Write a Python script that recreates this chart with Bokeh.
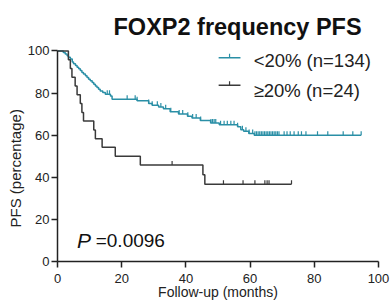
import numpy as np
from bokeh.plotting import figure
from bokeh.models import Range1d, FixedTicker, Title
from bokeh.core.properties import value
from bokeh.embed import file_html
from bokeh.resources import INLINE

# ---- data ----
low_t = [0, 1.8, 2.4, 3.0, 3.4, 4.0, 4.6, 5.0, 5.6, 6.1, 6.6, 7.1, 7.6, 8.1, 8.7, 9.2, 9.7,
         10.2, 10.8, 11.3, 11.8, 12.3, 12.8, 13.3, 14.1, 14.9, 16.5, 17.0, 24.8, 28.4, 29.5,
         31.5, 33.0, 35.1, 37.7, 40.5, 41.9, 44.5, 47.7, 50.4, 56.1, 57.1, 58.0, 59.6, 61.3]
low_s = [100, 99.2, 98.5, 97.7, 97.0, 96.2, 94.7, 93.9, 93.1, 92.3, 91.5, 90.7, 89.8, 89.0,
         88.2, 87.4, 86.6, 85.8, 85.0, 84.2, 83.4, 82.6, 81.8, 81.0, 80.2, 79.4, 78.6, 77.1,
         76.3, 75.0, 74.2, 73.4, 72.5, 71.1, 70.0, 69.0, 68.1, 67.0, 65.8, 64.9, 64.0, 62.6,
         61.8, 60.8, 60.0]
low_end = 94.6
low_cens = [15.5, 16.2, 21.7, 24.2, 24.8, 28.4, 29.5, 31.1, 32.2, 33.7, 35.3, 37.9, 39.0,
            40.6, 42.1, 43.2, 44.6, 47.8, 48.3, 48.8, 49.3, 50.8, 51.9, 52.9, 54.0, 55.0,
            56.1, 57.6, 58.7, 59.7, 60.8, 61.5, 62.0, 62.5, 63.0, 63.5, 64.0, 64.5, 65.0,
            65.5, 66.0, 66.5, 67.0, 67.5, 68.0, 68.5, 69.0, 70.6, 71.5, 72.5, 73.7, 75.0,
            76.0, 77.4, 81.0, 84.2, 89.0, 92.0, 94.6]

high_t = [0, 3.4, 4.0, 4.5, 5.5, 6.1, 7.1, 7.6, 8.1, 11.3, 11.8, 13.9, 18.0, 25.8, 45.3, 45.9]
high_s = [100, 95.8, 91.7, 87.5, 83.3, 79.2, 75.0, 70.8, 66.7, 62.5, 58.3, 54.2, 50.0, 45.8,
          41.2, 36.7]
high_end = 72.9
high_cens = [35.7, 51.7, 57.8, 61.5, 64.6, 65.3, 65.9, 72.9]

labels = ["<20% (n=134)", "\u226520% (n=24)"]
p_text = "=0.0096"
ticks = [0, 20, 40, 60, 80, 100]

TEAL = "#2a8fa6"
DARK = "#3a3a3a"
FONT = "Liberation Sans"

p = figure(width=390, height=303, output_backend="svg", toolbar_location=None,
           x_range=Range1d(0, 100), y_range=Range1d(0, 104),
           min_border_left=57, min_border_right=12, min_border_top=42, min_border_bottom=42)
p.outline_line_color = None
p.xgrid.visible = False
p.ygrid.visible = False
p.background_fill_color = "white"

p.title.text = "FOXP2 frequency PFS"
p.title.text_font = FONT
p.title.text_font_size = "23.5px"
p.title.text_font_style = "bold"
p.title.align = "left"
p.title.offset = 56
p.title.standoff = 6
p.title.text_color = "#111111"

for ax in (p.xaxis[0], p.yaxis[0]):
    ax.ticker = FixedTicker(ticks=ticks)
    ax.bounds = (0, 100)
    ax.axis_line_width = 1.5
    ax.axis_line_color = "#222222"
    ax.major_tick_line_width = 1.5
    ax.major_tick_line_color = "#222222"
    ax.major_tick_out = 6
    ax.major_tick_in = 0
    ax.minor_tick_line_color = None
    ax.major_label_text_font = FONT
    ax.major_label_text_font_size = "13px"
    ax.major_label_text_color = "#222222"
    ax.axis_label_text_font = FONT
    ax.axis_label_text_font_style = "normal"
    ax.axis_label_text_color = "#222222"

p.xaxis.axis_label = "Follow-up (months)"
p.xaxis.axis_label_text_font_size = "14px"
p.xaxis.axis_label_standoff = -2
p.xaxis.major_label_standoff = 6
p.yaxis.major_label_standoff = 2

# y-axis title as a side title so it can be shifted along the axis like the reference
ytitle = Title(text="PFS (percentage)", align="left", offset=34, standoff=2,
               text_font=FONT, text_font_size="15px", text_font_style="normal",
               text_color="#222222")
p.add_layout(ytitle, "left")


def draw(times, surv, end, cens, color):
    xs = list(times) + [end]
    ys = list(surv) + [surv[-1]]
    p.step(xs, ys, mode="after", line_color=color, line_width=1.5)
    t = np.array(times)
    s = np.array(surv)
    idx = np.searchsorted(t, np.array(cens), side="right") - 1
    cy = s[idx]
    p.segment(x0=cens, y0=cy, x1=cens, y1=cy + 1.9, line_color=color, line_width=1.2)


draw(low_t, low_s, low_end, low_cens, TEAL)
draw(high_t, high_s, high_end, high_cens, DARK)

# legend (manual, to get the tick-on-line marker)
leg_y_line = [96.8, 83.7]
leg_y_text = [95.3, 81.4]
for color, ly, ty, lab in zip([TEAL, DARK], leg_y_line, leg_y_text, labels):
    p.segment(x0=[50.2], y0=[ly], x1=[57.0], y1=[ly], line_color=color, line_width=1.5)
    p.segment(x0=[53.6], y0=[ly], x1=[53.6], y1=[ly + 1.9], line_color=color, line_width=1.2)
    p.text(x=[61.1], y=[ty], text=[lab], text_font=value(FONT), text_font_size="18.5px",
           text_color="#222222", text_baseline="alphabetic", text_align="left")

p.text(x=[6.1], y=[9.95], text=["P"], text_font=value(FONT), text_font_size="21px",
       text_font_style="italic", text_color="#111111", text_baseline="alphabetic")
p.text(x=[11.9], y=[9.95], text=[p_text], text_font=value(FONT), text_font_size="19px",
       text_color="#111111", text_baseline="alphabetic")

open("out.html", "w").write(file_html(p, INLINE))
